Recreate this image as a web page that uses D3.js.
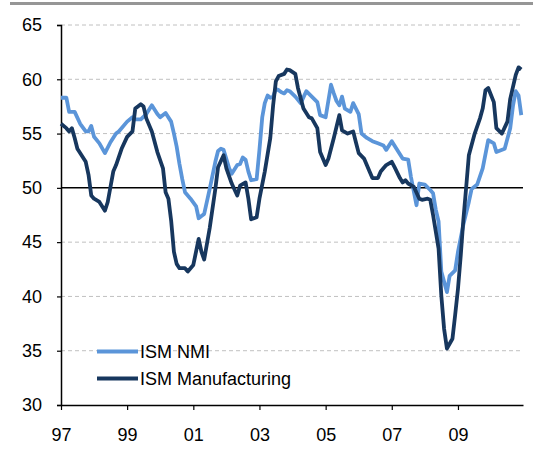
<!DOCTYPE html>
<html>
<head>
<meta charset="utf-8">
<script src="https://cdn.jsdelivr.net/npm/d3@7"></script>
<style>
  body { margin: 0; background: #fff; }
  text { font-family: Arial, "Liberation Sans", sans-serif; }
</style>
</head>
<body>
<div id="plot"></div>
<script>
// ISM NMI (light blue), month and value
var nmiDates = ["1997-01","1997-03","1997-04","1997-06","1997-08","1997-10","1997-11","1997-12",
  "1998-01","1998-03","1998-05","1998-07","1998-09","1998-10","1999-01","1999-03","1999-04","1999-06",
  "1999-08","1999-10","1999-12","2000-01","2000-03","2000-05","2000-06","2000-07","2000-08","2000-09",
  "2000-10","2000-12","2001-02","2001-03","2001-04","2001-05","2001-07","2001-09","2001-10","2001-11",
  "2001-12","2002-02","2002-03","2002-05","2002-06","2002-07","2002-08","2002-09","2002-10","2002-12",
  "2003-01","2003-02","2003-03","2003-04","2003-05","2003-06","2003-07","2003-08","2003-09","2003-10",
  "2003-11","2003-12","2004-02","2004-04","2004-06","2004-08","2004-10","2004-11","2005-01","2005-03",
  "2005-04","2005-05","2005-06","2005-07","2005-08","2005-10","2005-11","2006-01","2006-02","2006-04",
  "2006-06","2006-08","2006-10","2006-11","2007-01","2007-03","2007-05","2007-07","2007-08","2007-10",
  "2007-11","2008-01","2008-03","2008-04","2008-05","2008-06","2008-07","2008-09","2008-10","2008-12",
  "2009-01","2009-03","2009-05","2009-06","2009-08","2009-10","2009-12","2010-02","2010-03","2010-06",
  "2010-08","2010-09","2010-10","2010-11","2010-12"];
var nmiValues = [58.3,58.3,57.0,57.0,55.9,55.2,55.2,55.7,
  54.7,54.1,53.2,54.2,55.0,55.2,56.1,56.5,56.3,56.3,
  56.8,57.6,56.8,56.5,56.9,56.1,55.0,53.8,52.2,50.8,
  49.6,49.0,48.3,47.2,47.4,47.6,49.9,52.4,53.4,53.6,
  53.5,51.8,51.3,52.1,52.2,52.8,52.6,51.5,50.7,50.8,
  53.5,56.5,57.8,58.5,58.3,58.4,59.1,59.0,58.8,58.7,
  59.0,58.9,58.4,57.8,58.9,58.4,57.9,56.7,56.5,59.5,
  58.7,58.0,57.6,58.4,57.3,57.0,57.8,56.8,55.0,54.6,
  54.3,54.1,53.9,53.5,54.3,53.5,52.7,52.6,51.0,48.4,
  50.4,50.3,49.8,49.5,48.0,46.9,42.3,40.4,41.9,42.4,
  44.1,46.6,48.7,49.9,50.3,51.8,54.4,54.1,53.3,53.6,
  55.5,57.6,58.9,58.5,56.7];

// ISM Manufacturing (dark navy), month and value
var mfgDates = ["1997-01","1997-03","1997-04","1997-05","1997-06","1997-07","1997-10","1997-11","1997-12",
  "1998-01","1998-03","1998-05","1998-06","1998-08","1998-09","1998-11","1999-01","1999-03","1999-04",
  "1999-06","1999-07","1999-08","1999-10","1999-12","2000-02","2000-03","2000-04","2000-05","2000-06",
  "2000-07","2000-08","2000-10","2000-11","2001-01","2001-03","2001-04","2001-05","2001-07","2001-09",
  "2001-10","2001-12","2002-01","2002-03","2002-05","2002-06","2002-08","2002-09","2002-10","2002-12",
  "2003-01","2003-03","2003-05","2003-06","2003-07","2003-08","2003-10","2003-11","2003-12","2004-02",
  "2004-03","2004-05","2004-07","2004-08","2004-10","2004-11","2005-01","2005-02","2005-04","2005-06",
  "2005-07","2005-09","2005-11","2005-12","2006-01","2006-03","2006-05","2006-06","2006-08","2006-09",
  "2006-10","2006-11","2007-01","2007-02","2007-04","2007-05","2007-06","2007-07","2007-09","2007-11",
  "2007-12","2008-02","2008-03","2008-04","2008-06","2008-07","2008-08","2008-09","2008-11","2008-12",
  "2009-01","2009-02","2009-03","2009-04","2009-05","2009-07","2009-09","2009-10","2009-11","2009-12",
  "2010-02","2010-03","2010-05","2010-07","2010-08","2010-10","2010-11","2010-12"];
var mfgValues = [55.9,55.5,55.2,55.5,54.6,53.6,52.4,51.2,49.3,
  49.0,48.7,47.9,48.7,51.5,52.1,53.6,54.7,55.2,57.3,
  57.7,57.5,56.4,55.2,53.3,51.8,49.6,49.0,47.0,44.1,
  43.0,42.6,42.6,42.3,42.9,45.3,44.1,43.4,46.3,49.9,
  51.9,53.0,51.8,50.4,49.3,50.2,50.5,49.0,47.1,47.3,
  49.0,51.5,54.6,57.6,59.8,60.3,60.5,60.9,60.85,60.5,
  59.2,57.3,56.5,56.4,55.5,53.3,52.1,52.7,54.6,56.7,
  55.3,55.0,55.2,54.2,53.2,52.7,51.5,50.9,50.9,51.5,
  51.8,52.1,52.4,51.9,50.9,50.5,50.7,50.4,50.1,49.0,
  48.9,49.0,48.9,47.5,44.4,40.1,37.0,35.2,36.1,38.3,
  40.7,43.8,47.0,50.0,53.0,54.9,56.4,57.3,59.0,59.2,
  57.9,55.5,55.0,56.1,58.2,60.4,61.1,60.9];

var yTicks = [30, 35, 40, 45, 50, 55, 60, 65];
var xTickYears = [1997, 1999, 2001, 2003, 2005, 2007, 2009];
var seriesNames = ["ISM NMI", "ISM Manufacturing"];

var width = 533, height = 451;
var padLeft = 61, padRight = 523, padTop = 25, padBottom = 405;
var colNmi = "#5b95d9", colMfg = "#17375e";

var parse = d3.timeParse("%Y-%m");
var nmi = nmiDates.map(function(d, i){ return {date: parse(d), value: nmiValues[i]}; });
var mfg = mfgDates.map(function(d, i){ return {date: parse(d), value: mfgValues[i]}; });

var svg = d3.select("#plot").append("svg")
    .attr("width", width).attr("height", height);

// grey rule at the top (page header cut off)
svg.append("rect").attr("x", 10).attr("y", 2).attr("width", 523).attr("height", 3)
    .attr("fill", "#969696");

var x = d3.scaleTime()
    .domain([new Date(1997, 0, 1), new Date(2010, 11, 20)])
    .range([padLeft, padRight]);
var y = d3.scaleLinear().domain([30, 65]).range([padBottom, padTop]);

// gridlines
svg.append("g").selectAll("line")
    .data(yTicks.filter(function(v){ return v != 30 && v != 50; }))
    .enter().append("line")
    .attr("x1", padLeft).attr("x2", padRight)
    .attr("y1", function(d){ return y(d); }).attr("y2", function(d){ return y(d); })
    .attr("stroke", "#c0c0c0").attr("stroke-width", 1)
    .attr("stroke-dasharray", "4,3");

// y axis
var yAxis = svg.append("g")
    .attr("transform", "translate(" + padLeft + ",0)")
    .call(d3.axisLeft(y).tickValues(yTicks).tickSize(4).tickPadding(15));
yAxis.select(".domain").attr("stroke", "#000").attr("stroke-width", 1.5);
yAxis.selectAll(".tick line").attr("stroke", "#000").attr("stroke-width", 1.2);
yAxis.selectAll("text").style("font-size", "18px").attr("fill", "#000");

// x axis
var xAxis = svg.append("g")
    .attr("transform", "translate(0," + padBottom + ")")
    .call(d3.axisBottom(x)
      .tickValues(xTickYears.map(function(yr){ return new Date(yr, 0, 1); }))
      .tickFormat(d3.timeFormat("%y"))
      .tickSizeInner(5).tickSizeOuter(0).tickPadding(18));
xAxis.select(".domain").attr("stroke", "#000").attr("stroke-width", 1.5);
xAxis.selectAll(".tick line").attr("stroke", "#000").attr("stroke-width", 1.2);
xAxis.selectAll("text").style("font-size", "18px").attr("fill", "#000");

// 50 line
svg.append("line")
    .attr("x1", padLeft).attr("x2", padRight)
    .attr("y1", y(50)).attr("y2", y(50))
    .attr("stroke", "#000").attr("stroke-width", 1.5);

var line = d3.line()
    .x(function(d){ return x(d.date); })
    .y(function(d){ return y(d.value); });

svg.append("path").datum(nmi)
    .attr("d", line).attr("fill", "none")
    .attr("stroke", colNmi).attr("stroke-width", 3.8)
    .attr("stroke-linejoin", "round");
svg.append("path").datum(mfg)
    .attr("d", line).attr("fill", "none")
    .attr("stroke", colMfg).attr("stroke-width", 3.8)
    .attr("stroke-linejoin", "round");

// legend
var legend = svg.append("g");
[colNmi, colMfg].forEach(function(c, i){
    var ly = 351.5 + i * 27;
    legend.append("line").attr("x1", 97).attr("x2", 138)
        .attr("y1", ly).attr("y2", ly)
        .attr("stroke", c).attr("stroke-width", 4);
    legend.append("text").attr("x", 140).attr("y", ly + 6.5)
        .style("font-size", "18px").attr("fill", "#000")
        .text(seriesNames[i]);
});
</script>
</body>
</html>
